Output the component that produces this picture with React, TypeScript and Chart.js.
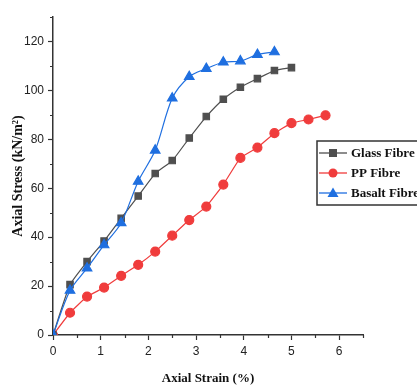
import React, { useEffect, useRef } from "react";
import { Chart, registerables } from "chart.js";

Chart.register(...registerables);

const strain = [0, 0.357, 0.714, 1.071, 1.429, 1.786, 2.143, 2.5, 2.857, 3.214, 3.571, 3.929, 4.286, 4.643, 5.0, 5.357, 5.714];
const glass = [0, 20.6, 30.0, 38.4, 47.7, 56.8, 66.0, 71.3, 80.5, 89.3, 96.4, 101.3, 104.8, 108.1, 109.3];
const pp = [0, 9.1, 15.7, 19.4, 24.2, 28.7, 34.1, 40.6, 47.0, 52.5, 61.5, 72.4, 76.6, 82.5, 86.6, 88.1, 89.8];
const basalt = [0, 18.2, 27.3, 36.8, 45.8, 62.8, 75.5, 96.8, 105.6, 108.9, 111.5, 112.0, 114.6, 115.7];
const seriesNames = ["Glass Fibre", "PP Fibre", "Basalt Fibre"];
const xMinorTicks = [0.5, 1.5, 2.5, 3.5, 4.5, 5.5, 6.5];
const yMinorTicks = [10, 30, 50, 70, 90, 110, 130];

const GLASS = "#4f4f4f";
const PP = "#f03c3c";
const BASALT = "#1f6fe0";
const AXIS = "#333333";

const toPts = (ys: number[]) => ys.map((y, i) => ({ x: strain[i], y }));

function drawMarker(ctx: CanvasRenderingContext2D, style: string, x: number, y: number, color: string) {
  ctx.fillStyle = color;
  ctx.beginPath();
  if (style === "rect") {
    ctx.rect(x - 4, y - 4, 8, 8);
  } else if (style === "circle") {
    ctx.arc(x, y, 4.5, 0, Math.PI * 2);
  } else {
    ctx.moveTo(x, y - 5.5);
    ctx.lineTo(x + 5.5, y + 4);
    ctx.lineTo(x - 5.5, y + 4);
    ctx.closePath();
  }
  ctx.fill();
}

const extrasPlugin = {
  id: "extras",
  afterDraw(chart: any) {
    const ctx = chart.ctx as CanvasRenderingContext2D;
    const xs = chart.scales.x;
    const ys = chart.scales.y;
    const area = chart.chartArea;
    ctx.save();
    ctx.strokeStyle = AXIS;
    ctx.lineWidth = 1.2;
    ctx.beginPath();
    xMinorTicks.forEach((v) => {
      const px = Math.round(xs.getPixelForValue(v)) + 0.5;
      ctx.moveTo(px, area.bottom);
      ctx.lineTo(px, area.bottom + 3);
    });
    yMinorTicks.forEach((v) => {
      const py = Math.round(ys.getPixelForValue(v)) + 0.5;
      ctx.moveTo(area.left, py);
      ctx.lineTo(area.left - 3, py);
    });
    ctx.stroke();

    // legend
    const lx = 317;
    const ly = 141;
    ctx.lineWidth = 1.5;
    ctx.strokeStyle = AXIS;
    ctx.strokeRect(lx, ly, 120, 64);
    const colors = [GLASS, PP, BASALT];
    const styles = ["rect", "circle", "triangle"];
    ctx.font = "bold 13px 'Liberation Serif', 'Times New Roman', serif";
    ctx.textBaseline = "middle";
    seriesNames.forEach((name, i) => {
      const cy = 153 + i * 20;
      ctx.strokeStyle = colors[i];
      ctx.lineWidth = 1.3;
      ctx.beginPath();
      ctx.moveTo(319, cy);
      ctx.lineTo(347, cy);
      ctx.stroke();
      drawMarker(ctx, styles[i], 333, cy, colors[i]);
      ctx.fillStyle = "#111";
      ctx.fillText(name, 351, cy + 1);
    });
    ctx.restore();
  },
};

export default function App() {
  const ref = useRef<HTMLCanvasElement>(null);
  useEffect(() => {
    if (!ref.current) return;
    const tickFont = { family: "'Liberation Sans Narrow', 'Liberation Sans', Arial, sans-serif", size: 12 };
    const titleFont = { family: "'Liberation Serif', 'Times New Roman', serif", size: 13, weight: "bold" as const };
    const yTitleFont = { family: "'Liberation Serif', 'Times New Roman', serif", size: 14, weight: "bold" as const };
    const chart = new Chart(ref.current, {
      type: "line",
      data: {
        datasets: [
          {
            label: seriesNames[0],
            data: toPts(glass),
            borderColor: GLASS,
            backgroundColor: GLASS,
            pointStyle: "rect",
            pointRadius: 4.5,
            borderWidth: 1.2,
            tension: 0.15,
            order: 1,
          },
          {
            label: seriesNames[1],
            data: toPts(pp),
            borderColor: PP,
            backgroundColor: PP,
            pointStyle: "circle",
            pointRadius: 4.5,
            borderWidth: 1.2,
            tension: 0.1,
            order: 2,
          },
          {
            label: seriesNames[2],
            data: toPts(basalt),
            borderColor: BASALT,
            backgroundColor: BASALT,
            pointStyle: "triangle",
            pointRadius: 5.5,
            borderWidth: 1.2,
            tension: 0.3,
            order: 0,
          },
        ],
      },
      options: {
        responsive: false,
        animation: false,
        layout: { padding: { top: 17, right: 54, bottom: 0, left: 0 } },
        plugins: { legend: { display: false }, tooltip: { enabled: false } },
        elements: { point: { borderWidth: 0 } },
        scales: {
          x: {
            type: "linear",
            min: 0,
            max: 6.5,
            afterFit: (s: any) => { s.height = 51; },
            ticks: { stepSize: 1, includeBounds: false, font: tickFont, color: "#222", padding: 4 },
            grid: { drawOnChartArea: false, drawTicks: true, tickLength: 5, tickColor: AXIS, tickWidth: 1.2 },
            border: { display: true, color: AXIS, width: 1.5 },
            title: { display: true, text: "Axial Strain (%)", font: titleFont, color: "#111", padding: { top: 0, bottom: 0 } },
          },
          y: {
            type: "linear",
            min: 0,
            max: 130,
            afterFit: (s: any) => { s.width = 53; },
            ticks: { stepSize: 20, includeBounds: false, font: tickFont, color: "#222", padding: 4 },
            grid: { drawOnChartArea: false, drawTicks: true, tickLength: 5, tickColor: AXIS, tickWidth: 1.2 },
            border: { display: true, color: AXIS, width: 1.5 },
            title: { display: true, text: "Axial Stress (kN/m²)", font: yTitleFont, color: "#111", padding: { top: 10, bottom: 0 } },
          },
        },
      },
      plugins: [extrasPlugin],
    });
    return () => chart.destroy();
  }, []);
  return (
    <div style={{ position: "fixed", left: 0, top: 0, width: 417, height: 386, background: "#fff" }}>
      <canvas ref={ref} width={417} height={386} />
    </div>
  );
}
